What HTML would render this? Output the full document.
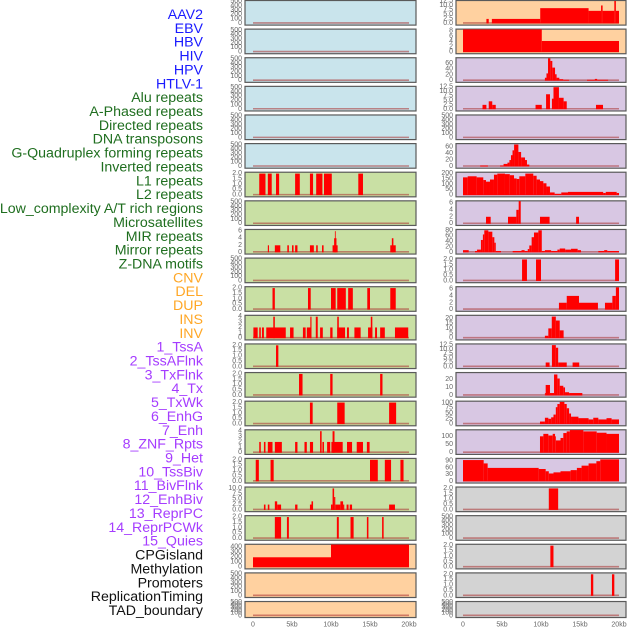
<!DOCTYPE html>
<html><head><meta charset="utf-8">
<style>
html,body{margin:0;padding:0;background:#fff;width:630px;height:630px;overflow:hidden}
svg{display:block}
text{font-family:"Liberation Sans",sans-serif}
</style></head>
<body>
<svg id="chart" width="630" height="630" viewBox="0 0 630 630" xmlns="http://www.w3.org/2000/svg"></svg>
<script>
// ---------- data ----------
const trackLabels = ["AAV2","EBV","HBV","HIV","HPV","HTLV-1","Alu repeats","A-Phased repeats","Directed repeats","DNA transposons","G-Quadruplex forming repeats","Inverted repeats","L1 repeats","L2 repeats","Low_complexity A/T rich regions","Microsatellites","MIR repeats","Mirror repeats","Z-DNA motifs","CNV","DEL","DUP","INS","INV","1_TssA","2_TssAFlnk","3_TxFlnk","4_Tx","5_TxWk","6_EnhG","7_Enh","8_ZNF_Rpts","9_Het","10_TssBiv","11_BivFlnk","12_EnhBiv","13_ReprPC","14_ReprPCWk","15_Quies","CPGisland","Methylation","Promoters","ReplicationTiming","TAD_boundary"];
const labelGroups = ["v","v","v","v","v","v","r","r","r","r","r","r","r","r","r","r","r","r","r","s","s","s","s","s","c","c","c","c","c","c","c","c","c","c","c","c","c","c","c","o","o","o","o","o"];
const xTickLabels = ["0","5kb","10kb","15kb","20kb"];
const xTickValues = [0,5,10,15,20];

const T500 = ["0","100","200","300","400","500"];
const T2 = ["0.0","0.5","1.0","1.5","2.0"];
const T4 = ["0","1","2","3","4"];
const T6 = ["0","2","4","6"];
const T10 = ["0.0","2.5","5.0","7.5","10.0"];
const T12 = ["0.0","2.5","5.0","7.5","10.0","12.5"];

// bars: [start kb, end kb, value]
const barsL6 = [[0.8,1.6,2],[1.9,2.4,2],[2.95,3.35,2],[5.4,6.0,2],[7.3,7.7,2],[8.1,8.9,2],[9.1,10.1,2],[13.5,14.1,2]];
const barsL8 = [[1.9,2.05,2],[2.8,3.5,2],[4.4,4.6,2],[5.0,5.2,2],[5.4,5.7,2],[7.3,7.8,2],[8.1,8.3,2],[8.85,9.05,2],[10.2,10.85,2],[10.4,10.7,4],[10.5,10.6,6],[17.6,18.3,2],[17.8,18.0,4]];
const barsL10 = [[2.5,2.8,2],[7.05,7.4,2],[10.0,10.6,2],[10.8,11.9,2],[12.2,12.8,2],[14.65,15.0,2],[17.6,18.3,2]];
const barsL11 = [[0.05,0.6,2],[0.8,1.0,2],[1.15,1.4,2],[1.7,4.2,2],[2.6,2.8,4],[4.75,5.2,2],[6.4,6.75,2],[6.9,7.5,2],[7.35,7.5,4],[8.05,8.3,4],[8.6,8.95,2],[9.9,10.2,2],[10.8,11.8,2],[10.8,11.0,4],[12.05,12.3,2],[13.0,13.8,2],[14.75,15.3,2],[15.1,15.3,4],[15.65,15.9,2],[16.3,16.9,2],[18.2,19.9,2]];
const barsL12 = [[2.95,3.25,2]];
const barsL13 = [[5.9,6.35,2],[9.9,10.2,2],[16.3,16.6,2]];
const barsL14 = [[7.3,7.65,2],[10.8,11.75,2],[17.45,18.35,2]];
const barsL15 = [[0.8,1.0,2],[1.4,1.6,2],[1.9,2.5,2],[2.8,3.7,2],[5.4,5.7,2],[6.6,6.9,2],[7.3,7.7,2],[8.6,8.8,4],[8.9,9.1,2],[9.5,9.9,2],[10.05,11.5,2],[10.2,10.45,4],[12.05,12.7,2],[13.3,14.1,2],[14.6,14.95,2]];
const barsL16 = [[0.35,0.75,2],[2.25,2.65,2],[15.0,16.0,2],[16.9,17.7,2],[18.9,19.3,2]];
const barsL17 = [[1.4,1.6,2.5],[1.9,2.1,2.5],[2.8,3.1,4],[3.1,3.6,2.5],[5.4,5.7,2.5],[7.3,7.5,2.5],[7.5,7.7,4],[10.0,10.2,2.5],[10.2,10.4,10],[10.4,10.55,6],[10.55,11.2,2.5],[11.2,11.55,4],[11.55,11.7,2.5],[12.0,12.25,2.5],[12.4,12.7,2.5],[17.45,18.2,2.5]];
const barsL18 = [[2.8,3.6,2],[4.35,4.6,2],[10.75,11.0,2],[12.5,12.9,2],[14.6,14.8,2],[16.55,16.75,2]];
const barsL19 = [[0,10,195],[10,20,450]];

const barsR0 = [[3.0,3.3,2.5],[3.7,9.9,2.5],[9.9,16.1,8.5],[16.1,17.7,7],[17.7,17.9,10],[17.9,19.4,7],[19.4,19.6,12.5],[19.6,20,7]];
const barsR1 = [[0,10.1,8.6],[10.1,20,4.2]];
const barsR2 = [[10.5,10.7,10],[10.7,10.9,25],[10.9,11.2,77],[11.2,11.45,68],[11.45,11.8,45],[11.8,12.0,22],[12.0,12.35,10],[12.35,12.85,5],[12.85,13.6,3],[15.9,16.9,3],[16.9,17.2,6],[17.2,18.6,3]];
const barsR3 = [[2.5,3.0,2.5],[3.3,3.75,4.5],[3.75,4.2,2.5],[9.3,10.1,2.5],[10.65,11.15,8.5],[11.4,11.6,6],[11.6,12.3,12.5],[12.3,12.9,6.5],[12.9,13.3,4.5],[17.05,17.95,2.5]];
const barsR5 = [[2.2,3.2,3],[4.75,5.2,3],[5.2,5.7,8],[5.7,5.95,12],[5.95,6.15,20],[6.15,6.35,35],[6.35,6.55,50],[6.55,7.1,68],[7.1,7.45,45],[7.45,7.95,28],[7.95,8.2,20],[8.2,8.5,6]];
const barsR6 = [[0,0.6,165],[0.6,1.75,175],[1.75,2.6,165],[2.6,2.95,140],[2.95,3.46,125],[3.46,3.97,145],[3.97,4.4,190],[4.4,5.38,200],[5.38,6.0,195],[6.0,6.54,185],[6.54,6.88,155],[6.88,7.22,150],[7.22,7.99,175],[7.99,9.01,200],[9.01,9.44,180],[9.44,9.87,145],[9.87,10.3,130],[10.3,10.7,110],[10.7,11.15,80],[11.15,11.75,25],[11.75,12.6,12],[12.6,13.46,25],[13.46,17.97,30],[17.97,18.3,20],[18.3,19.7,30],[19.7,20,20]];
const barsR7 = [[2.95,3.55,2],[5.77,6.84,2],[6.84,7.14,4],[7.14,7.4,6.5],[9.87,11.1,2],[14.5,14.87,2]];
const barsR8 = [[0,0.73,8],[1.54,1.8,5],[1.8,2.3,10],[2.3,2.55,45],[2.55,2.73,65],[2.73,3.25,80],[3.25,3.76,75],[3.76,4.02,55],[4.02,4.2,35],[4.2,4.87,5],[6.37,7.5,5],[7.5,7.9,8],[7.9,8.3,5],[8.3,8.5,12],[8.5,8.8,25],[8.8,9.1,55],[9.1,9.66,72],[9.66,10.1,80],[10.1,10.5,5],[10.5,11.3,8],[11.3,12.1,5],[12.1,12.4,10],[12.4,13.1,14],[13.1,13.85,10],[13.85,14.7,13],[14.7,15.13,8],[17.35,18.1,5],[18.1,18.5,8],[18.5,20,5]];
const barsR9 = [[7.57,8.2,2],[9.36,10.0,2],[19.5,20,2]];
const barsR10 = [[12.3,13.3,2],[13.3,14.87,4],[14.87,17.3,2],[18.2,19.15,2],[19.15,19.6,4],[19.6,20,6.5]];
const barsR11 = [[10.5,10.94,2.5],[10.94,11.38,10],[11.38,11.9,22],[11.9,12.4,18],[12.4,12.9,8]];
const barsR12 = [[10.6,11.1,2.5],[11.4,11.9,12.5],[11.9,12.2,11],[12.2,13.3,2.5],[14.05,14.9,2.5]];
const barsR13 = [[10.5,10.6,3],[10.6,11.15,13],[11.15,11.67,3],[11.67,12.1,26],[12.1,12.4,21],[12.4,12.86,12],[12.86,13.08,10],[13.08,13.6,4],[13.6,15.3,3]];
const barsR14 = [[9.87,10.5,12],[10.5,10.94,30],[10.94,11.3,25],[11.3,11.6,32],[11.6,11.9,45],[11.9,12.1,80],[12.1,12.4,95],[12.4,13.0,105],[13.0,13.3,95],[13.3,13.6,75],[13.6,13.85,50],[13.85,14.8,35],[14.8,16.1,28],[16.1,16.7,22],[16.7,17.35,30],[17.35,18.4,22],[18.4,19.05,28],[19.05,20,22]];
const barsR15 = [[9.87,10.3,100],[10.3,10.94,115],[10.94,11.5,105],[11.5,11.8,115],[11.8,11.9,100],[11.9,12.5,75],[12.5,12.86,90],[12.86,13.29,120],[13.29,13.7,130],[13.7,15.43,138],[15.43,17.14,130],[17.14,18.4,122],[18.4,20,115]];
const barsR16 = [[0,2.65,95],[2.65,3.16,80],[3.16,9.7,60],[9.7,10.6,55],[10.6,11.0,45],[11.0,11.6,35],[11.6,12.5,40],[12.5,13.8,45],[13.8,14.6,50],[14.6,15.2,60],[15.2,16.1,70],[16.1,17.1,80],[17.1,17.6,90],[17.6,20,98]];
const barsR17 = [[11.0,12.2,2]];
const barsR19 = [[11.2,11.6,2]];
const barsR20 = [[16.4,16.7,2],[19.1,19.4,2]];

// panel definitions: [column, row, background key, ticks, ymax, bars]
const leftPanels = [
 ["blue",T500,520,[]],["blue",T500,520,[]],["blue",T500,520,[]],["blue",T500,520,[]],["blue",T500,520,[]],["blue",T500,520,[]],
 ["green",T2,2.1,barsL6],["green",T500,520,[]],["green",T6,6.4,barsL8],["green",T500,520,[]],["green",T2,2.1,barsL10],
 ["green",T4,4.2,barsL11],["green",T2,2.1,barsL12],["green",T2,2.1,barsL13],["green",T2,2.1,barsL14],["green",T4,4.2,barsL15],
 ["green",T2,2.1,barsL16],["green",T10,10.5,barsL17],["green",T2,2.1,barsL18],["peach",["0","100","200","300","400"],445,barsL19],
 ["peach",T500,520,[]],["peach",T500,520,[]]
];
const rightPanels = [
 ["peach",T12,12.6,barsR0],["peach",["0","2","4","6","8"],8.6,barsR1],["lav",["0","20","40","60"],78,barsR2],["lav",T12,12.8,barsR3],
 ["lav",T500,520,[]],["lav",["0","20","40","60"],70,barsR5],["lav",["0","50","100","150","200"],210,barsR6],["lav",T6,6.5,barsR7],
 ["lav",["0","20","40","60","80"],82,barsR8],["lav",T2,2.1,barsR9],["lav",T6,6.6,barsR10],["lav",["0","5","10","15","20"],23,barsR11],
 ["lav",T12,13,barsR12],["lav",["0","10","20"],28,barsR13],["lav",["0","25","50","75","100"],107,barsR14],["lav",["0","50","100"],138,barsR15],
 ["lav",["0","30","60","90"],101,barsR16],["gray",T2,2.1,barsR17],["gray",T500,520,[]],["gray",T2,2.1,barsR19],["gray",T2,2.1,barsR20],["gray",T500,520,[]]
];

// ---------- drawing ----------
const NS = "http://www.w3.org/2000/svg";
const svg = document.getElementById("chart");
const bgColors = {blue:"#c9e4ec",green:"#c9e0a4",peach:"#ffd1a0",lav:"#d8c7e3",gray:"#d3d3d3"};
const labelColors = {v:"#1a1aff",r:"#1f6e1f",s:"#ffa726",c:"#a53cff",o:"#111111"};
const ROW_PITCH = 28.62, PANEL_H = 24.6;
const cols = [{x0:245,x1:416,k0:253,k20:409},{x0:456,x1:626,k0:463,k20:619}];

function mk(tag, attrs){ const e=document.createElementNS(NS,tag); for(const k in attrs) e.setAttribute(k,attrs[k]); return e; }

// labels
trackLabels.forEach((t,i)=>{
  const el = mk("text",{x:203,y:15+i*13.86,"text-anchor":"end","dominant-baseline":"central","font-size":"14.2",fill:labelColors[labelGroups[i]]});
  el.textContent = t;
  
  
  svg.appendChild(el);
});

function drawPanel(colIdx,row,p){
  const c = cols[colIdx];
  const top = row*ROW_PITCH;
  const h = row===21 ? 16 : PANEL_H;
  const bottom = top+h;
  const [bg,ticks,ymax,bars] = p;
  const xs = kb => c.k0 + (c.k20-c.k0)*kb/20;
  const ys = v => { const y0 = bottom-1.2, y1 = top+0.8; return y0 - (y0-y1)*Math.min(v,ymax)/ymax; };
  const g = mk("g",{});
  
  
  const bgr = mk("rect",{x:c.x0,y:top+0.5,width:c.x1-c.x0,height:h,fill:bgColors[bg],stroke:"#5a5a5a","stroke-width":"1.2"});
  
  
  g.appendChild(bgr);
  const base = mk("line",{x1:xs(0),x2:xs(20),y1:ys(0)-0.5,y2:ys(0)-0.5,stroke:"rgba(170,50,50,0.55)","stroke-width":"1.6"});
  
  
  g.appendChild(base);
  bars.forEach(b=>{
    const r = mk("rect",{x:xs(b[0]),y:ys(b[2]),width:Math.max(0.8,xs(b[1])-xs(b[0])),height:ys(0)-ys(b[2]),fill:"#ff0000"});
    
    
    g.appendChild(r);
  });
  ticks.forEach(t=>{
    const tx = mk("text",{x:c.x0-3,y:ys(parseFloat(t)),"text-anchor":"end","dominant-baseline":"central","font-size":"7",fill:"#666"});
    tx.textContent = t;
    
    
    g.appendChild(tx);
  });
  svg.appendChild(g);
}
leftPanels.forEach((p,i)=>drawPanel(0,i,p));
rightPanels.forEach((p,i)=>drawPanel(1,i,p));

cols.forEach(c=>{
  xTickValues.forEach((v,i)=>{
    const tx = mk("text",{x:c.k0+(c.k20-c.k0)*v/20,y:625,"text-anchor":"middle","dominant-baseline":"central","font-size":"7",fill:"#666"});
    tx.textContent = xTickLabels[i];
    
    
    svg.appendChild(tx);
  });
});
</script>
</body></html>
